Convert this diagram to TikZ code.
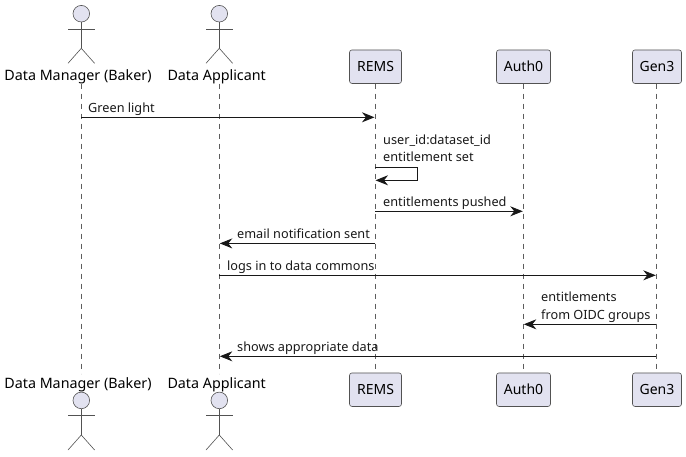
\documentclass[tikz,border=0pt]{standalone}
\usepackage{fontspec}
\setmainfont{Noto Sans}
\usetikzlibrary{arrows.meta}
\definecolor{boxfill}{HTML}{E2E2F0}
\definecolor{boxline}{HTML}{181818}
\tikzset{
    part/.style={draw=boxline!75,fill=boxfill,rounded corners=2.5pt,line width=0.6pt,
        minimum height=33.5pt,inner sep=0pt,font=\fontsize{14}{14}\selectfont},
    who/.style={inner sep=0pt,anchor=base,font=\fontsize{14.3}{14}\selectfont},
    msg/.style={inner sep=0pt,anchor=base west,text=black!90,font=\fontsize{12.7}{13}\selectfont},
    life/.style={draw=boxline!70,line width=0.5pt,dash pattern=on 5pt off 5pt},
    arrow/.style={draw=boxline,line width=0.9pt,shorten >=0.5pt,
        -{Stealth[length=12.5pt,width=10pt,inset=4pt]}},
    limb/.style={draw=boxline!75,line width=0.6pt},
    head/.style={circle,draw=boxline!75,fill=boxfill,line width=0.6pt,
        minimum size=16.6pt,inner sep=0pt}
}
\begin{document}
\begin{tikzpicture}[x=1pt,y=-1pt]
    \useasboundingbox (0,0) rectangle (686,456);
    % lifeline ends
    \foreach \name/\xpos in {mgr/81.3,app/219.3,rems/375,auth/523.3,gen/656.3}{
        \coordinate (\name Top) at (\xpos,83.5);
        \coordinate (\name Bot) at (\xpos,373.5);
        \draw[life] (\name Top) -- (\name Bot);
    }
    % actors, head row and foot row
    \foreach \name/\xpos/\txt/\lab in {mgr/81.3/Data Manager (Baker)/78,app/219.3/Data Applicant/216.7}{
        \node[who] (\name LabelT) at (\lab,80.4) {\txt};
        \node[who] (\name LabelB) at (\lab,388.4) {\txt};
        \node[head] (\name HeadT) at (\xpos,13.7) {};
        \node[head] (\name HeadB) at (\xpos,400.4) {};
        \foreach \side/\hy in {T/13.7,B/400.4}{
            \coordinate (\name Hip\side) at (\xpos,\hy+34.6);
            \coordinate (\name ArmL\side) at (\xpos-13.3,\hy+15.3);
            \coordinate (\name ArmR\side) at (\xpos+13.3,\hy+15.3);
            \coordinate (\name FootL\side) at (\xpos-13.3,\hy+49.6);
            \coordinate (\name FootR\side) at (\xpos+13.3,\hy+49.6);
            \draw[limb] (\name Head\side) -- (\name Hip\side);
            \draw[limb] (\name ArmL\side) -- (\name ArmR\side);
            \draw[limb] (\name FootL\side) -- (\name Hip\side) -- (\name FootR\side);
        }
    }
    % boxes
    \foreach \name/\xpos/\boxw/\txt in {rems/375.5/52/REMS,auth/523.5/54/Auth0,gen/657/49/Gen3}{
        \node[part,minimum width=\boxw pt] (\name BoxT) at (\xpos,66.7) {\txt};
        \node[part,minimum width=\boxw pt] (\name BoxB) at (\xpos,389.7) {\txt};
    }
    % messages
    \draw[arrow] (mgrTop |- 0,117.3) -- (remsTop |- 0,117.3);
    \node[msg] (mGreen) at (88,112) {Green light};
    \node[msg] (mUser) at (383,144) {user\_id:dataset\_id};
    \node[msg] (mSet) at (383,161.2) {entitlement set};
    \coordinate (selfA) at (417.3,167.3);
    \coordinate (selfB) at (417.3,180.3);
    \draw[arrow] (remsTop |- selfA) -- (selfA) -- (selfB) -- (remsTop |- selfB);
    \draw[arrow] (remsTop |- 0,211.3) -- (authTop |- 0,211.3);
    \node[msg] (mPushed) at (383,206.2) {entitlements pushed};
    \draw[arrow] (remsTop |- 0,243.4) -- (appTop |- 0,243.4);
    \node[msg] (mEmail) at (237,238) {email notification sent};
    \draw[arrow] (appTop |- 0,275.3) -- (genTop |- 0,275.3);
    \node[msg] (mLogs) at (227,270) {logs in to data commons};
    \draw[arrow] (genTop |- 0,324.3) -- (authTop |- 0,324.3);
    \node[msg] (mEnt) at (541,301) {entitlements};
    \node[msg] (mOidc) at (541,319) {from OIDC groups};
    \draw[arrow] (genTop |- 0,356.3) -- (appTop |- 0,356.3);
    \node[msg] (mShows) at (237,351) {shows appropriate data};
\end{tikzpicture}
\end{document}
